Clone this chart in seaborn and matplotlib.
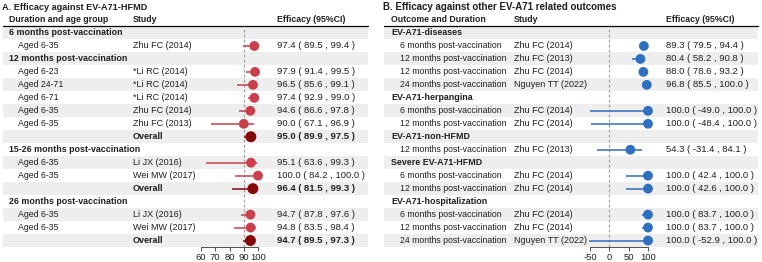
import numpy as np
import pandas as pd
import seaborn as sns
import matplotlib.pyplot as plt

sns.set_style("white")
plt.rcParams['font.family'] = ['Liberation Sans', 'DejaVu Sans']
plt.rcParams['axes.unicode_minus'] = False

nan = np.nan

# ---- panel A: efficacy against EV-A71-HFMD ----
a_labels = ["6 months post-vaccination", "Aged 6-35",
            "12 months post-vaccination", "Aged 6-23", "Aged 24-71", "Aged 6-71",
            "Aged 6-35", "Aged 6-35", "",
            "15-26 months post-vaccination", "Aged 6-35", "Aged 6-35", "",
            "26 months post-vaccination", "Aged 6-35", "Aged 6-35", ""]
a_studies = ["", "Zhu FC (2014)",
             "", "*Li RC (2014)", "*Li RC (2014)", "*Li RC (2014)",
             "Zhu FC (2014)", "Zhu FC (2013)", "Overall",
             "", "Li JX (2016)", "Wei MW (2017)", "Overall",
             "", "Li JX (2016)", "Wei MW (2017)", "Overall"]
a_est = [nan, 97.4, nan, 97.9, 96.5, 97.4, 94.6, 90.0, 95.0,
         nan, 95.1, 100.0, 96.4, nan, 94.7, 94.8, 94.7]
a_lo = [nan, 89.5, nan, 91.4, 85.6, 92.9, 86.6, 67.1, 89.9,
        nan, 63.6, 84.2, 81.5, nan, 87.8, 83.5, 89.5]
a_hi = [nan, 99.4, nan, 99.5, 99.1, 99.0, 97.8, 96.9, 97.5,
        nan, 99.3, 100.0, 99.3, nan, 97.6, 98.4, 97.3]
a_ticks = [60, 70, 80, 90, 100]

# ---- panel B: other EV-A71 related outcomes ----
b_labels = ["EV-A71-diseases", "6 months post-vaccination", "12 months post-vaccination",
            "12 months post-vaccination", "24 months post-vaccination",
            "EV-A71-herpangina", "6 months post-vaccination", "12 months post-vaccination",
            "EV-A71-non-HFMD", "12 months post-vaccination",
            "Severe EV-A71-HFMD", "6 months post-vaccination", "12 months post-vaccination",
            "EV-A71-hospitalization", "6 months post-vaccination", "12 months post-vaccination",
            "24 months post-vaccination"]
b_studies = ["", "Zhu FC (2014)", "Zhu FC (2013)", "Zhu FC (2014)", "Nguyen TT (2022)",
             "", "Zhu FC (2014)", "Zhu FC (2014)",
             "", "Zhu FC (2013)",
             "", "Zhu FC (2014)", "Zhu FC (2014)",
             "", "Zhu FC (2014)", "Zhu FC (2014)", "Nguyen TT (2022)"]
b_est = [nan, 89.3, 80.4, 88.0, 96.8, nan, 100.0, 100.0, nan, 54.3,
         nan, 100.0, 100.0, nan, 100.0, 100.0, 100.0]
b_lo = [nan, 79.5, 58.2, 78.6, 85.5, nan, -49.0, -48.4, nan, -31.4,
        nan, 42.4, 42.6, nan, 83.7, 83.7, -52.9]
b_hi = [nan, 94.4, 90.8, 93.2, 100.0, nan, 100.0, 100.0, nan, 84.1,
        nan, 100.0, 100.0, nan, 100.0, 100.0, 100.0]
b_ticks = [-50, 0, 50, 100]

W, H = 762, 262
fig = plt.figure(figsize=(W / 100, H / 100), dpi=100)

TOP, BOT = 26.5, 247.0
TXT = "#1f1f1f"
SHADE = "#eeeeee"


def add_ax(x0, x1):
    return fig.add_axes([x0 / W, 1 - BOT / H, (x1 - x0) / W, (BOT - TOP) / H])


def ci_text(e, lo, hi):
    return f"{e:.1f} ( {lo:.1f} , {hi:.1f} )"


def panel(px0, px1, title, tsize, head1, cols, labels, studies, est, lo, hi,
          fx0, fx1, xlim, ticks, ref, colors, shade_x):
    n = len(labels)
    rows = np.arange(1, n + 1)
    tab = add_ax(px0, px1)
    tab.set_xlim(px0, px1)
    tab.set_ylim(n + 0.5, 0.5)
    tab.axis("off")
    x_grp, x_sub, x_study, x_eff = cols

    # zebra shading
    for r in rows[::2]:
        tab.fill_between(shade_x, r - 0.5, r + 0.5, color=SHADE, lw=0, zorder=0)
    tab.plot(shade_x, [0.5, 0.5], color="black", lw=0.9, clip_on=False)

    tab.text(px0 + 2, -1.0, title, fontsize=tsize, fontweight="bold",
             va="center", color=TXT)
    for x, s in [(x_grp, head1), (x_study, "Study"), (x_eff, "Efficacy (95%CI)")]:
        tab.text(x, -0.05, s, fontsize=6.3, fontweight="bold", va="center", color=TXT)

    for r, lab, st, e, l, h in zip(rows, labels, studies, est, lo, hi):
        overall = st == "Overall"
        if np.isnan(e):
            tab.text(x_grp, r, lab, fontsize=6.4, fontweight="bold", va="center", color=TXT)
            continue
        w = "bold" if overall else "normal"
        tab.text(x_sub, r, lab, fontsize=6.3, va="center", color=TXT)
        tab.text(x_study, r, st, fontsize=6.5, va="center", color=TXT, fontweight=w)
        tab.text(x_eff, r, ci_text(e, l, h), fontsize=6.8, va="center", color=TXT, fontweight=w)

    # forest
    fa = add_ax(fx0, fx1)
    fa.set_facecolor("none")
    df = pd.DataFrame({"row": rows, "est": est, "lo": lo, "hi": hi,
                       "kind": ["overall" if s == "Overall" else "study" for s in studies]})
    df = df.dropna()
    fa.axvline(ref, color="#9a9a9a", lw=0.8, ls=(0, (2.5, 2)), zorder=1)
    for kind, g in df.groupby("kind"):
        fa.hlines(g["row"], g["lo"], g["hi"], color=colors[kind], lw=1.1, zorder=2,
                  clip_on=False)
    sns.scatterplot(data=df, x="est", y="row", hue="kind", size="kind",
                    palette=colors, sizes={"study": 50, "overall": 62},
                    edgecolor="none", legend=False, ax=fa, zorder=3, clip_on=False)
    fa.set_xlim(*xlim)
    fa.set_ylim(n + 0.5, 0.5)
    fa.set_xticks(ticks)
    fa.set_yticks([])
    fa.set_xlabel("")
    fa.set_ylabel("")
    for s in ["top", "left", "right"]:
        fa.spines[s].set_visible(False)
    fa.spines["bottom"].set_bounds(ticks[0], ticks[-1])
    fa.spines["bottom"].set_color("#333333")
    fa.spines["bottom"].set_linewidth(0.6)
    fa.tick_params(axis="x", length=3, width=0.6, color="#333333", pad=1,
                   labelsize=6.8, labelcolor="#222222", bottom=True)


panel(0, 381, "A. Efficacy against EV-A71-HFMD", 6.6, "Duration and age group",
      (9, 18, 133, 277), a_labels, a_studies, a_est, a_lo, a_hi,
      201 - 5 * 57 / 40, 258 + 5 * 57 / 40, (55, 105), a_ticks, 90,
      {"study": "#c93f4c", "overall": "#850808"}, [3, 368])

panel(381, 762, "B. Efficacy against other EV-A71 related outcomes", 7.0, "Outcome and Duration",
      (391, 400, 514, 666), b_labels, b_studies, b_est, b_lo, b_hi,
      590 - 10 * 58 / 150, 648 + 10 * 58 / 150, (-60, 110), b_ticks, 0,
      {"study": "#2f6fbf", "overall": "#1f4f8f"}, [384, 758])

plt.savefig("out.png", dpi=100)
